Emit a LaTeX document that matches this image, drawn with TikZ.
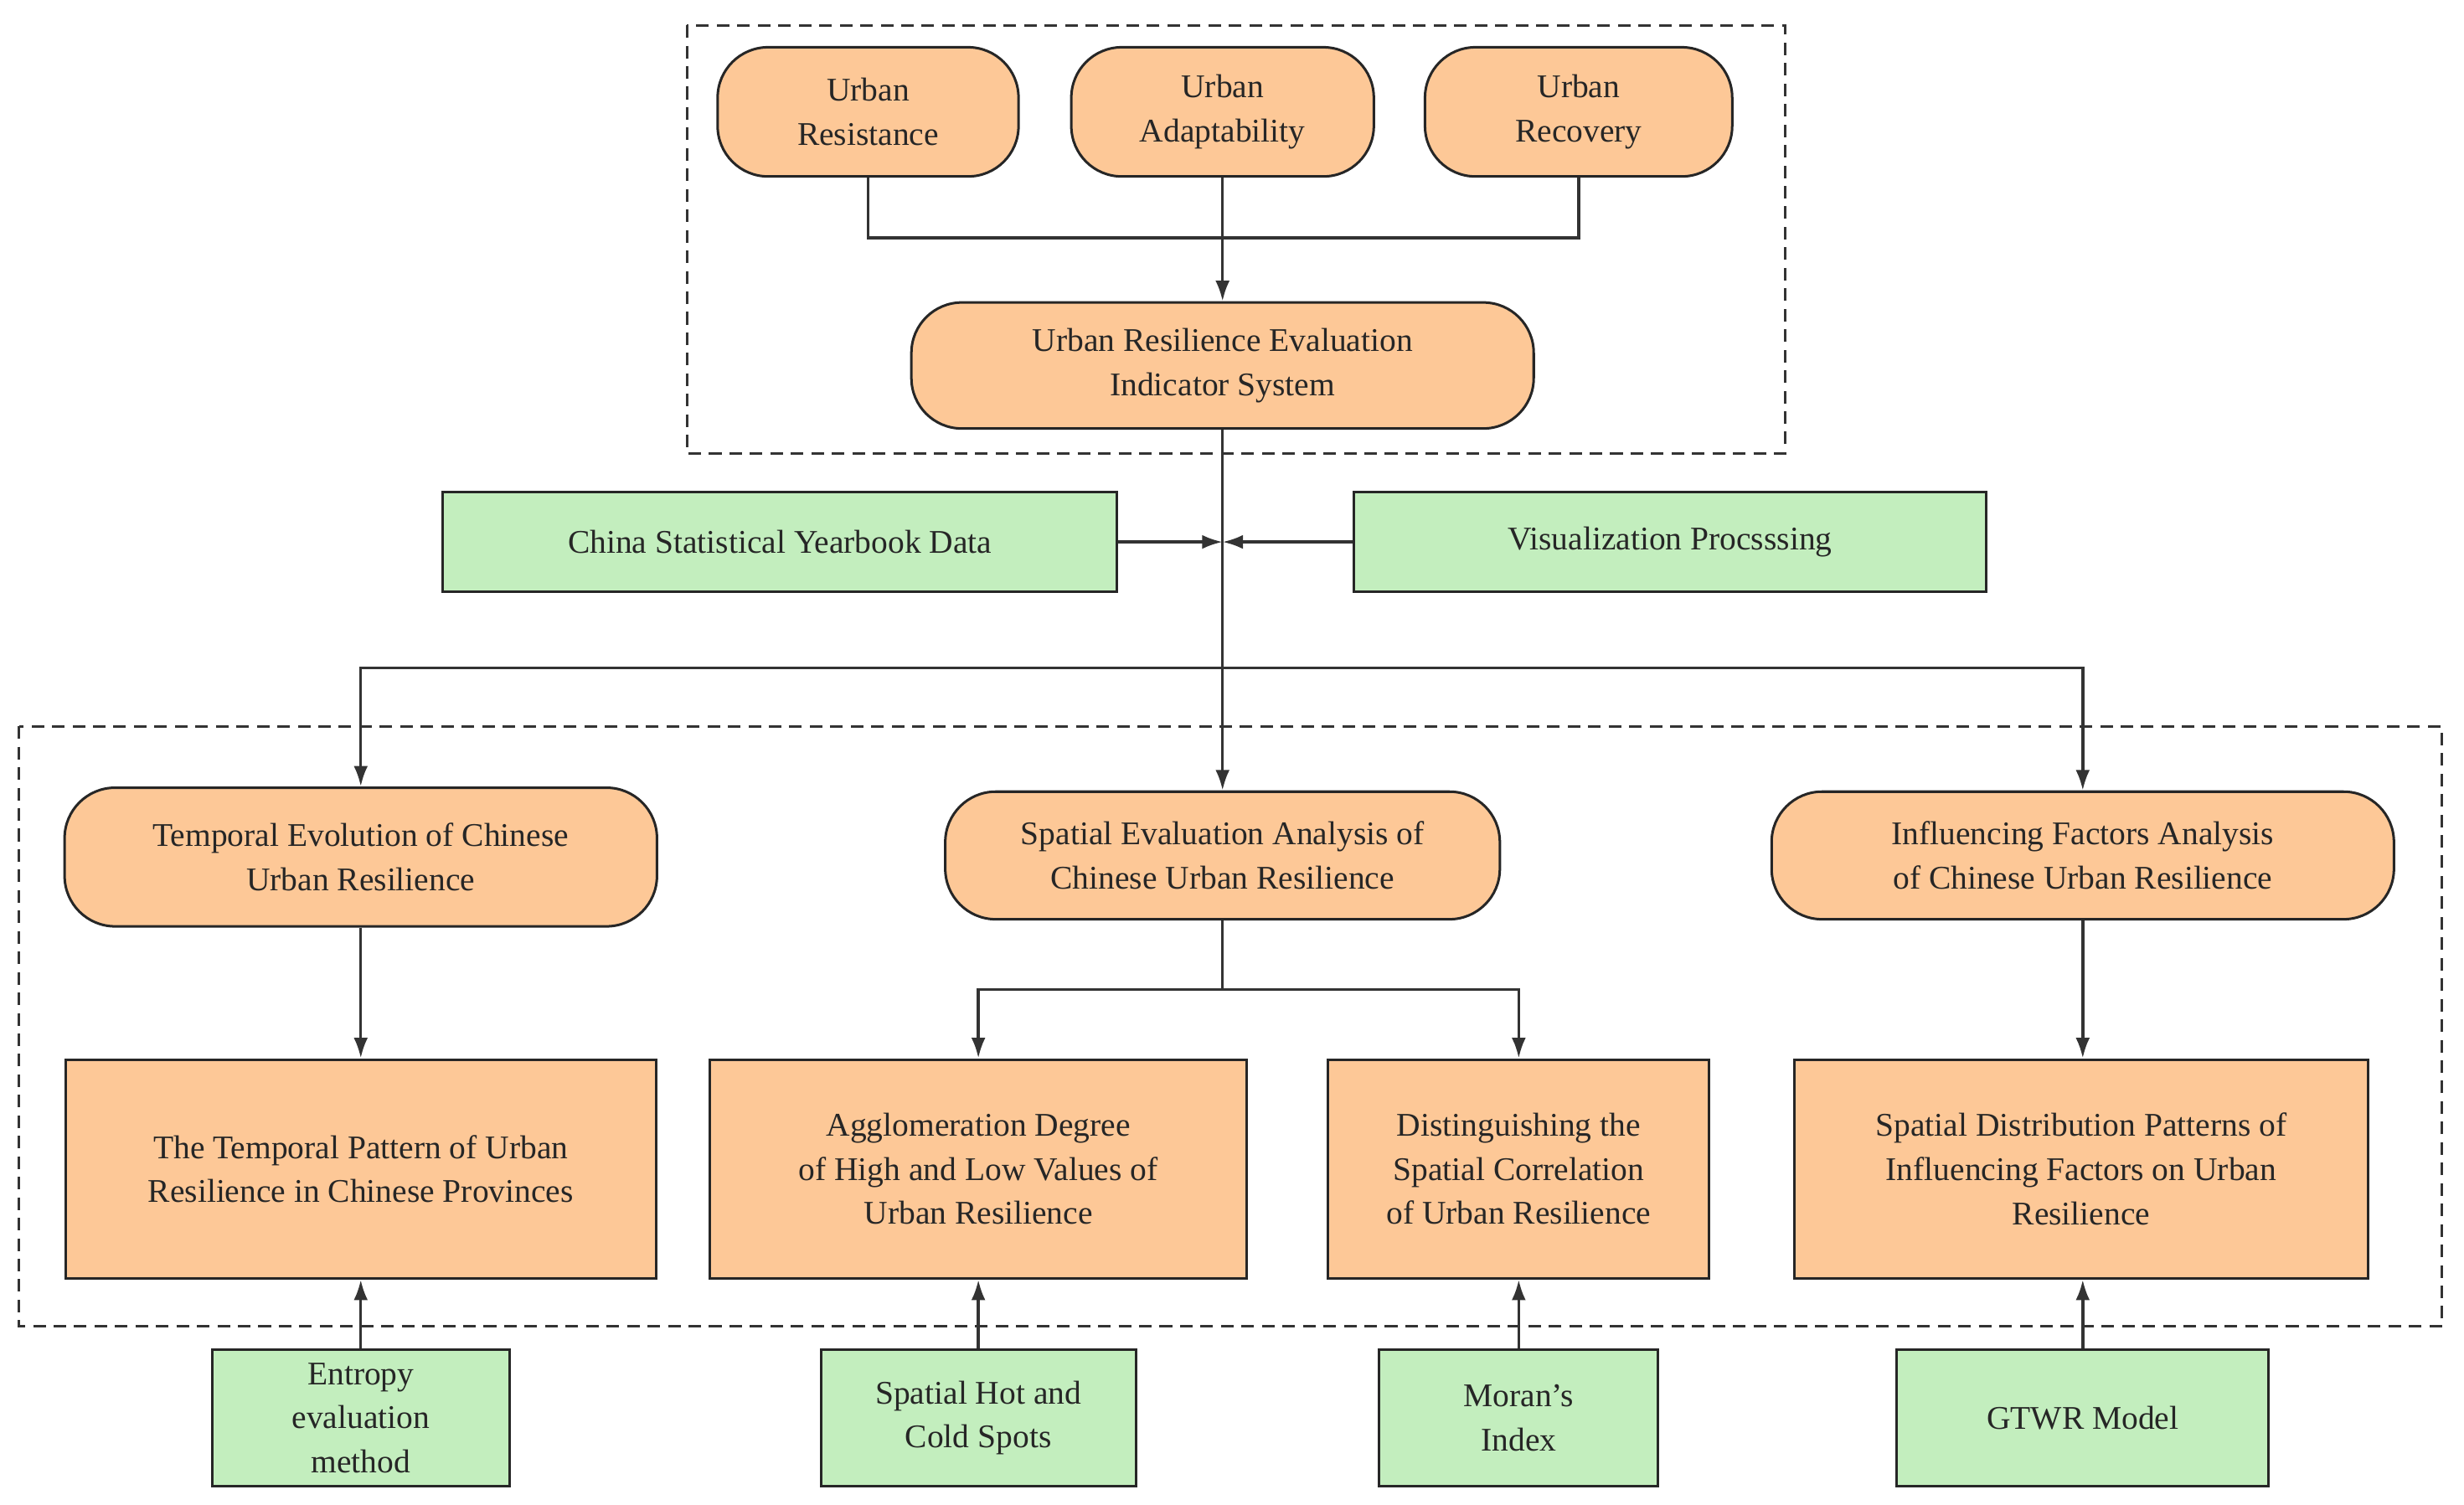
\documentclass[tikz,border=0pt]{standalone}
\usepackage{fontspec}
\setmainfont{Liberation Serif}
\usetikzlibrary{arrows.meta}
\definecolor{peach}{HTML}{FDC897}
\definecolor{mint}{HTML}{C3EEBE}
\begin{document}
\begin{tikzpicture}[x=1pt,y=-1pt,
 txt/.style={font=\fontsize{21}{28}\selectfont,align=center,inner sep=0pt,text=black!85},
 pill/.style={txt,draw=black!85,line width=1.6pt,fill=peach,rounded corners=32pt},
 box/.style={txt,draw=black!85,line width=1.6pt,fill=peach},
 gbox/.style={txt,draw=black!85,line width=1.6pt,fill=mint},
 ln/.style={draw=black!80,line width=1.8pt},
 ar/.style={ln,-{Latex[length=13pt,width=9pt]}},
 dbox/.style={draw=black!80,line width=1.6pt,dash pattern=on 8pt off 5pt}]
\useasboundingbox (0,0) rectangle (1564,955);
\draw[dbox] (436,16) rectangle (1133,288);
\draw[dbox] (12,461) rectangle (1550,842);
\node[pill,minimum width=191pt,minimum height=82pt] (r1) at (551,71) {Urban\\Resistance};
\node[pill,minimum width=192pt,minimum height=82pt] (r2) at (776,71) {Urban\\Adaptability};
\node[pill,minimum width=195pt,minimum height=82pt] (r3) at (1002,71) {Urban\\Recovery};
\node[pill,minimum width=395pt,minimum height=80pt] (ind) at (776,232) {Urban Resilience Evaluation\\Indicator System};
\node[gbox,minimum width=428pt,minimum height=63pt] (csy) at (495,344) {China Statistical Yearbook Data};
\node[gbox,minimum width=401pt,minimum height=63pt] (vis) at (1060,344) {Visualization Procsssing};
\coordinate (j1) at (776,151);
\coordinate (j2) at (776,344);
\coordinate (j3) at (776,424);
\node[pill,minimum width=376pt,minimum height=88pt] (t) at (229,544) {Temporal Evolution of Chinese\\Urban Resilience};
\node[pill,minimum width=352pt,minimum height=81pt] (s) at (776,543) {Spatial Evaluation Analysis of\\Chinese Urban Resilience};
\node[pill,minimum width=395pt,minimum height=81pt] (f) at (1322,543) {Influencing Factors Analysis\\of Chinese Urban Resilience};
\node[box,minimum width=375pt,minimum height=139pt] (b1) at (229,742) {The Temporal Pattern of Urban\\Resilience in Chinese Provinces};
\node[box,minimum width=341pt,minimum height=139pt] (b2) at (621,742) {Agglomeration Degree\\of High and Low Values of\\Urban Resilience};
\node[box,minimum width=242pt,minimum height=139pt] (b3) at (964,742) {Distinguishing the\\Spatial Correlation\\of Urban Resilience};
\node[box,minimum width=364pt,minimum height=139pt] (b4) at (1321,742) {Spatial Distribution Patterns of\\Influencing Factors on Urban\\Resilience};
\node[gbox,minimum width=189pt,minimum height=87pt] (g1) at (229,900) {Entropy\\evaluation\\method};
\node[gbox,minimum width=200pt,minimum height=87pt] (g2) at (621,900) {Spatial Hot and\\Cold Spots};
\node[gbox,minimum width=177pt,minimum height=87pt] (g3) at (964,900) {Moran's\\Index};
\node[gbox,minimum width=236pt,minimum height=87pt] (g4) at (1322,900) {GTWR Model};
% top merge
\draw[ln] (r1.south) |- (j1) -| (r3.south);
\draw[ar] (r2.south) -- (ind.north);
\draw[ln] (ind.south) -- (j3);
\draw[ar] (csy.east) -- (j2);
\draw[ar] (vis.west) -- (j2);
\draw[ar] (j3) -| (t.north);
\draw[ar] (j3) -- (s.north);
\draw[ar] (j3) -| (f.north);
\draw[ar] (t.south) -- (b1.north);
\coordinate (j4) at (776,628);
\draw[ln] (s.south) -- (j4);
\draw[ar] (j4) -| (b2.north);
\draw[ar] (j4) -| (b3.north);
\draw[ar] (f.south) -- (f.south|-b4.north);
\draw[ar] (g1.north) -- (b1.south);
\draw[ar] (g2.north) -- (b2.south);
\draw[ar] (g3.north) -- (b3.south);
\draw[ar] (g4.north) -- (g4.north|-b4.south);
\end{tikzpicture}
\end{document}
